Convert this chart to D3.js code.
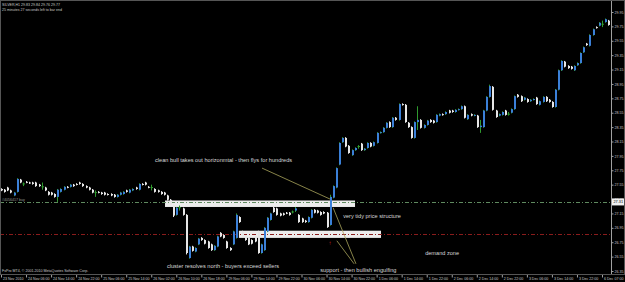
<!DOCTYPE html>
<html>
<head>
<meta charset="utf-8">
<script src="https://cdnjs.cloudflare.com/ajax/libs/d3/7.8.5/d3.min.js"></script>
<style>
  html, body { margin: 0; background: #000; overflow: hidden; }
  svg { display: block; font-family: "Liberation Sans", Arial, sans-serif; }
</style>
</head>
<body>
<div id="chart"></div>
<script>
// SILVER H1, 23 Nov - 6 Dec 2010, one entry per hourly bar
var opens = [
  27.49,27.48,27.51,27.47,27.40,27.45,27.62,27.56,27.59,27.58,
  27.58,27.58,27.55,27.52,27.51,27.45,27.44,27.42,27.38,27.45,
  27.48,27.52,27.52,27.55,27.56,27.58,27.56,27.53,27.51,27.48,
  27.44,27.45,27.44,27.44,27.42,27.42,27.41,27.38,27.41,27.42,
  27.47,27.44,27.47,27.51,27.48,27.56,27.58,27.52,27.51,27.49,
  27.47,27.45,27.44,27.40,27.34,27.27,27.13,27.23,27.22,27.13,
  26.53,26.69,26.62,26.72,26.81,26.78,26.76,26.72,26.64,26.69,
  26.88,26.85,26.76,26.67,26.72,26.81,27.10,26.90,26.84,26.81,
  26.78,26.83,26.90,26.60,26.64,26.90,27.06,27.23,27.22,27.15,
  27.15,27.16,27.16,27.17,27.19,27.13,27.08,27.05,27.03,27.09,
  27.20,27.19,27.17,27.17,27.16,26.99,27.37,27.51,27.83,28.14,
  28.20,28.09,27.96,28.03,28.08,28.12,28.03,28.06,28.13,28.09,
  28.13,28.27,28.28,28.34,28.42,28.35,28.48,28.45,28.67,28.66,
  28.41,28.35,28.20,28.42,28.45,28.34,28.38,28.45,28.44,28.42,
  28.51,28.53,28.53,28.58,28.58,28.56,28.59,28.60,28.64,28.46,
  28.53,28.51,28.51,28.35,28.35,28.58,28.77,28.91,28.58,28.51,
  28.52,28.58,28.53,28.55,28.60,28.80,28.78,28.73,28.74,28.71,
  28.73,28.76,28.66,28.70,28.77,28.73,28.70,28.63,28.87,29.14,
  29.26,29.20,29.19,29.14,29.21,29.24,29.39,29.51,29.48,29.63,
  29.74,29.76,29.78,29.81,29.83
];
var highs = [
  27.50,27.49,27.52,27.48,27.45,27.64,27.63,27.58,27.60,27.59,
  27.59,27.59,27.56,27.58,27.52,27.46,27.45,27.43,27.49,27.50,
  27.53,27.53,27.56,27.56,27.57,27.59,27.57,27.54,27.52,27.49,
  27.47,27.46,27.45,27.45,27.43,27.43,27.42,27.42,27.45,27.46,
  27.48,27.49,27.50,27.52,27.57,27.57,27.59,27.53,27.55,27.50,
  27.48,27.46,27.45,27.41,27.35,27.28,27.24,27.26,27.23,27.14,
  26.70,26.70,26.68,26.81,26.82,26.79,26.77,26.73,26.71,26.84,
  26.89,26.86,26.77,26.68,26.91,27.15,27.11,26.91,26.85,26.82,
  26.79,26.84,26.91,26.73,26.96,27.10,27.16,27.24,27.23,27.16,
  27.16,27.17,27.17,27.19,27.24,27.14,27.09,27.06,27.11,27.21,
  27.21,27.20,27.18,27.18,27.17,27.41,27.54,27.79,28.14,28.21,
  28.21,28.10,28.04,28.07,28.10,28.13,28.06,28.14,28.14,28.15,
  28.28,28.29,28.35,28.42,28.43,28.49,28.49,28.68,28.68,28.67,
  28.42,28.36,28.43,28.64,28.46,28.39,28.45,28.46,28.45,28.53,
  28.54,28.54,28.57,28.59,28.59,28.60,28.61,28.65,28.65,28.53,
  28.54,28.53,28.52,28.45,28.59,28.78,28.94,28.92,28.59,28.54,
  28.57,28.59,28.56,28.61,28.79,28.81,28.79,28.77,28.75,28.74,
  28.75,28.77,28.72,28.78,28.78,28.74,28.71,28.88,29.15,29.28,
  29.27,29.21,29.20,29.21,29.25,29.39,29.47,29.52,29.64,29.72,
  29.75,29.81,29.83,29.86,29.84
];
var lows = [
  27.46,27.44,27.46,27.43,27.39,27.44,27.57,27.53,27.57,27.56,
  27.55,27.52,27.52,27.48,27.46,27.40,27.40,27.37,27.31,27.44,
  27.47,27.50,27.51,27.52,27.54,27.55,27.52,27.50,27.47,27.43,
  27.38,27.43,27.41,27.40,27.40,27.39,27.37,27.37,27.40,27.41,
  27.44,27.43,27.46,27.48,27.47,27.54,27.54,27.50,27.47,27.44,
  27.44,27.41,27.40,27.33,27.26,27.10,27.12,27.19,27.12,26.58,
  26.52,26.62,26.61,26.71,26.77,26.72,26.66,26.63,26.63,26.68,
  26.82,26.80,26.66,26.63,26.71,26.80,27.02,26.82,26.77,26.71,
  26.72,26.75,26.59,26.59,26.63,26.89,27.05,27.16,27.12,27.11,
  27.12,27.14,27.12,27.15,27.17,27.02,27.02,27.02,27.02,27.08,
  27.15,27.15,27.12,27.14,26.95,26.98,27.36,27.50,27.82,28.13,
  28.07,27.98,27.95,28.02,28.05,28.02,28.02,28.05,28.07,28.08,
  28.12,28.26,28.27,28.33,28.34,28.34,28.44,28.44,28.65,28.41,
  28.34,28.19,28.19,28.31,28.33,28.33,28.37,28.41,28.40,28.41,
  28.50,28.51,28.52,28.54,28.55,28.55,28.58,28.59,28.47,28.45,
  28.50,28.50,28.34,28.27,28.34,28.57,28.76,28.58,28.48,28.50,
  28.51,28.51,28.51,28.54,28.59,28.76,28.70,28.72,28.69,28.70,
  28.72,28.66,28.65,28.69,28.70,28.69,28.62,28.62,28.86,29.13,
  29.18,29.16,29.15,29.13,29.20,29.23,29.38,29.48,29.47,29.62,
  29.72,29.75,29.74,29.80,29.76
];
var closes = [
  27.47,27.45,27.47,27.44,27.44,27.63,27.58,27.56,27.58,27.57,
  27.56,27.53,27.53,27.52,27.47,27.41,27.41,27.38,27.48,27.49,
  27.52,27.51,27.55,27.53,27.55,27.56,27.53,27.51,27.48,27.44,
  27.44,27.44,27.42,27.41,27.41,27.40,27.38,27.41,27.44,27.45,
  27.45,27.48,27.49,27.49,27.56,27.55,27.55,27.51,27.51,27.45,
  27.45,27.42,27.41,27.34,27.27,27.12,27.23,27.23,27.13,26.60,
  26.69,26.63,26.67,26.80,26.78,26.73,26.67,26.64,26.70,26.83,
  26.83,26.81,26.67,26.64,26.90,27.13,27.03,26.83,26.78,26.72,
  26.73,26.76,26.60,26.72,26.95,27.09,27.15,27.17,27.13,27.12,
  27.13,27.15,27.13,27.17,27.22,27.03,27.03,27.03,27.10,27.20,
  27.16,27.16,27.13,27.15,26.96,27.38,27.53,27.78,28.13,28.20,
  28.08,27.99,28.03,28.06,28.08,28.03,28.05,28.13,28.08,28.14,
  28.27,28.28,28.34,28.41,28.35,28.48,28.45,28.67,28.66,28.42,
  28.35,28.20,28.42,28.45,28.34,28.38,28.44,28.42,28.41,28.52,
  28.53,28.52,28.56,28.55,28.56,28.59,28.60,28.64,28.48,28.52,
  28.51,28.52,28.35,28.37,28.58,28.77,28.92,28.59,28.49,28.53,
  28.56,28.52,28.53,28.60,28.78,28.77,28.71,28.76,28.70,28.73,
  28.74,28.67,28.71,28.77,28.71,28.70,28.63,28.87,29.14,29.27,
  29.19,29.17,29.16,29.20,29.24,29.38,29.46,29.49,29.63,29.71,
  29.73,29.80,29.78,29.85,29.77
];

var timeLabels = ["23 Nov 2010","24 Nov 06:00","24 Nov 14:00","24 Nov 22:00","25 Nov 06:00",
  "25 Nov 14:00","26 Nov 02:00","26 Nov 10:00","26 Nov 18:00","29 Nov 06:00","29 Nov 14:00",
  "29 Nov 22:00","30 Nov 06:00","30 Nov 14:00","30 Nov 22:00","1 Dec 06:00","1 Dec 14:00",
  "1 Dec 22:00","2 Dec 06:00","2 Dec 14:00","2 Dec 22:00","3 Dec 06:00","3 Dec 14:00",
  "3 Dec 22:00","6 Dec 07:00"];
var priceTicks = [29.95,29.75,29.55,29.35,29.15,28.95,28.75,28.55,28.35,28.15,27.95,
  27.75,27.55,27.35,27.15,26.95,26.75,26.55,26.35];

var orderPrice = 27.31;   // open buy order
var levelPrice = 26.87;   // red level
var zones = [[52.4, 113.1, 27.33, 27.24], [76, 121.4, 26.91, 26.81]]; // [from bar, to bar, top, bottom]

var W = 625, H = 282;
var AXIS_X = 611, AXIS_Y = 274;

var svg = d3.select("#chart").append("svg")
    .attr("width", W).attr("height", H);

svg.append("rect").attr("width", W).attr("height", H).attr("fill", "#000");

var x = d3.scaleLinear().domain([0, 192]).range([1, 602]);
var y = d3.scaleLinear().domain([29.95, 26.35]).range([12, 271]);

// zones drawn behind the bars
svg.selectAll(".zone").data(zones).enter().append("rect")
    .attr("x", d => x(d[0]))
    .attr("y", d => y(d[2]))
    .attr("width", d => x(d[1]) - x(d[0]))
    .attr("height", d => y(d[3]) - y(d[2]))
    .attr("fill", "#ececec");

// horizontal lines
svg.append("line")
    .attr("x1", 0).attr("x2", AXIS_X)
    .attr("y1", Math.round(y(orderPrice)) + 0.5).attr("y2", Math.round(y(orderPrice)) + 0.5)
    .attr("stroke", "#5f8a5f").attr("stroke-dasharray", "4,2,1,2");
svg.append("line")
    .attr("x1", 0).attr("x2", AXIS_X)
    .attr("y1", Math.round(y(levelPrice)) + 0.5).attr("y2", Math.round(y(levelPrice)) + 0.5)
    .attr("stroke", "#8a1c1c").attr("stroke-dasharray", "4,2,1,2");

svg.append("text").attr("x", 2).attr("y", y(orderPrice) - 1)
    .attr("font-size", 3.6).attr("fill", "#9a9a9a").text("#4056417 buy");

// candles
var bars = d3.range(closes.length).map(function (i) {
  return {i: i, o: opens[i], h: highs[i], l: lows[i], c: closes[i]};
});
function barColor(d) {
  return d.c > d.o ? "#3b80d8" : (d.c < d.o ? "#e6e6e6" : "#2f9a2f");
}
function wickColor(d) {
  return d.c >= d.o ? "#2f9a2f" : "#e6e6e6";
}

var g = svg.append("g");
g.selectAll(".wick").data(bars).enter().append("line")
    .attr("x1", d => Math.round(x(d.i)) + 0.5)
    .attr("x2", d => Math.round(x(d.i)) + 0.5)
    .attr("y1", d => y(d.h))
    .attr("y2", d => y(d.l))
    .attr("stroke", wickColor).attr("stroke-width", 1);

g.selectAll(".body").data(bars.filter(d => d.o !== d.c)).enter().append("rect")
    .attr("x", d => Math.round(x(d.i)))
    .attr("y", d => y(Math.max(d.o, d.c)))
    .attr("width", 2)
    .attr("height", d => Math.max(1, Math.abs(y(d.o) - y(d.c))))
    .attr("fill", barColor);

g.selectAll(".doji").data(bars.filter(d => d.o === d.c)).enter().append("line")
    .attr("x1", d => Math.round(x(d.i)) - 0.5)
    .attr("x2", d => Math.round(x(d.i)) + 2)
    .attr("y1", d => y(d.o)).attr("y2", d => y(d.o))
    .attr("stroke", "#2f9a2f");

// annotation lines
var khaki = "#a9a55c";
function seg(i1, p1, i2, p2) {
  svg.append("line")
      .attr("x1", x(i1)).attr("y1", y(p1))
      .attr("x2", x(i2)).attr("y2", y(p2))
      .attr("stroke", khaki).attr("stroke-width", 0.8);
}
seg(83.4, 27.78, 105.1, 27.35);
seg(106.1, 27.23, 113.4, 26.45);
seg(107.3, 26.77, 112.8, 26.45);

// red order arrow
svg.append("text").attr("x", x(105.1)).attr("y", y(26.74) + 2)
    .attr("font-size", 6).attr("fill", "#d02020").attr("text-anchor", "middle").text("↑");

// comments
function note(i, p, s) {
  svg.append("text").attr("x", x(i)).attr("y", y(p))
      .attr("font-size", 5.6).attr("fill", "#d8d8d8").text(s);
}
note(49.2, 27.87, "clean bull takes out horizonmtal - then flys for hundreds");
note(109.3, 27.08, "very tidy price structure");
note(53, 26.39, "cluster resolves north - buyers exceed sellers");
note(102, 26.34, "support - then bullish engulfing");
note(135.5, 26.57, "demand zone");

// price axis
var yAxis = d3.axisRight(y).tickValues(priceTicks).tickSize(2).tickFormat(d3.format(".2f"));
var ya = svg.append("g").attr("transform", "translate(" + (AXIS_X + 0.5) + ",0)").call(yAxis);
ya.select(".domain").attr("stroke", "#a0a0a0").attr("d", "M0,0V" + AXIS_Y);
ya.selectAll(".tick line").attr("stroke", "#a0a0a0");
ya.selectAll(".tick text").attr("fill", "#c8c8c8").attr("font-size", 3.6).attr("x", 3)
    .attr("font-family", "Liberation Sans, Arial, sans-serif");

// current order price box on the axis
svg.append("rect").attr("x", AXIS_X + 1).attr("y", y(orderPrice) - 3.5)
    .attr("width", 13).attr("height", 7).attr("fill", "#f0f0f0");
svg.append("text").attr("x", AXIS_X + 2.5).attr("y", y(orderPrice) + 1.4)
    .attr("font-size", 3.8).attr("fill", "#000").text(d3.format(".2f")(orderPrice));

// time axis
var tickIdx = timeLabels.map((s, k) => k * 8);
var xAxis = d3.axisBottom(x).tickValues(tickIdx).tickSize(3)
    .tickFormat((d, k) => timeLabels[k]);
var xa = svg.append("g").attr("transform", "translate(0," + (AXIS_Y + 0.5) + ")").call(xAxis);
xa.select(".domain").attr("stroke", "#a0a0a0").attr("d", "M0,0H" + AXIS_X);
xa.selectAll(".tick line").attr("stroke", "#a0a0a0");
xa.selectAll(".tick text").attr("fill", "#c8c8c8").attr("font-size", 3.6)
    .attr("text-anchor", "start").attr("x", 1.5).attr("y", 3).attr("dy", "0.71em")
    .attr("font-family", "Liberation Sans, Arial, sans-serif");

// header and footer texts
svg.append("text").attr("x", 2).attr("y", 6).attr("font-size", 3.6).attr("fill", "#c8c8c8")
    .text("SILVER,H1  29.83 29.84 29.76 29.77");
svg.append("text").attr("x", 2).attr("y", 11).attr("font-size", 3.6).attr("fill", "#c8c8c8")
    .text("25 minutes 27 seconds left to bar end");
svg.append("text").attr("x", 2).attr("y", 271.5).attr("font-size", 3.6).attr("fill", "#c8c8c8")
    .text("FxPro MT4, © 2001-2010 MetaQuotes Software Corp.");

// frame
svg.append("rect").attr("x", 0.5).attr("y", 0.5).attr("width", W - 1).attr("height", AXIS_Y)
    .attr("fill", "none").attr("stroke", "#555");
</script>
</body>
</html>
